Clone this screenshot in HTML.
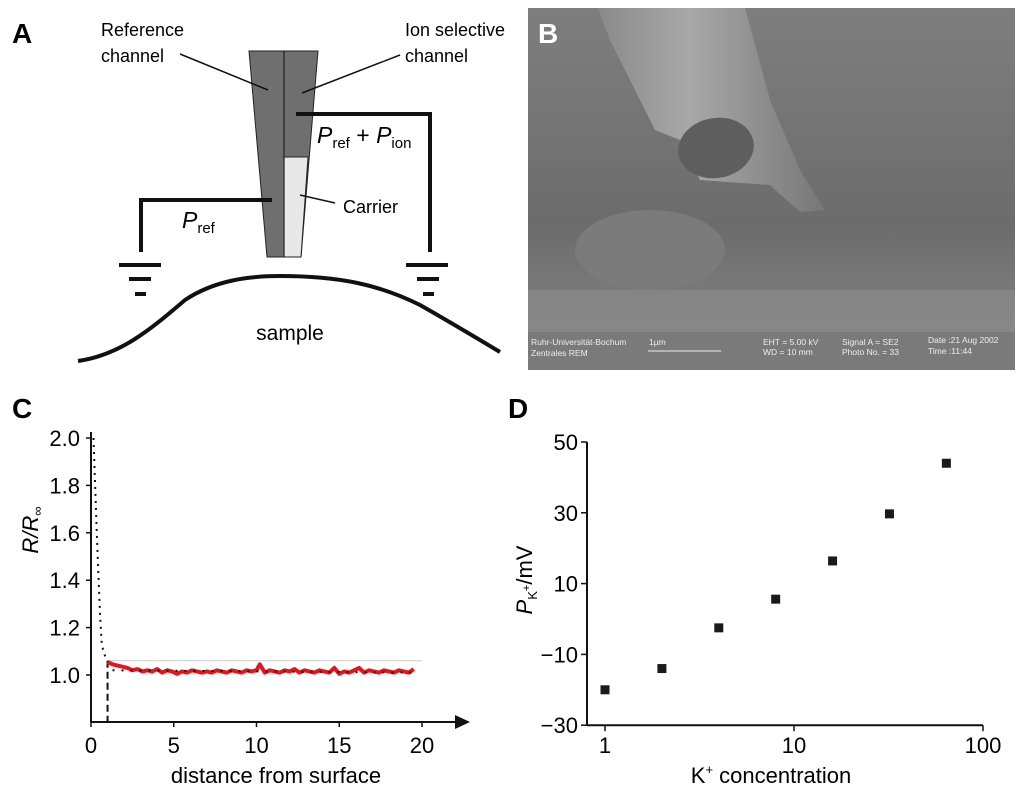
<!DOCTYPE html>
<html><head><meta charset="utf-8">
<style>
html,body{margin:0;padding:0;background:#fff;}
svg{display:block;font-family:"Liberation Sans",sans-serif;}
</style></head>
<body>
<svg width="1024" height="791" viewBox="0 0 1024 791" xmlns="http://www.w3.org/2000/svg">
<!-- Panel A -->
<g>
  <text x="12" y="43" font-size="28" font-weight="bold">A</text>
  <polygon points="249,51 318,51 301,257 267,257" fill="#6f6f6f" stroke="#222" stroke-width="1"/>
  <polygon points="284,157 308,157 301,257 284,257" fill="#e8e8e8" stroke="#222" stroke-width="1"/>
  <line x1="284" y1="51" x2="284" y2="257" stroke="#222" stroke-width="1.2"/>
  <text x="101" y="36" font-size="18">Reference</text>
  <text x="101" y="62" font-size="18">channel</text>
  <line x1="180" y1="54" x2="268" y2="90" stroke="#111" stroke-width="1.5"/>
  <text x="405" y="36" font-size="18">Ion selective</text>
  <text x="405" y="62" font-size="18">channel</text>
  <line x1="400" y1="55" x2="302" y2="93" stroke="#111" stroke-width="1.5"/>
  <polyline points="296,114 430,114 430,252" fill="none" stroke="#111" stroke-width="4"/>
  <polyline points="272,200 141,200 141,252" fill="none" stroke="#111" stroke-width="4"/>
  <g stroke="#111" stroke-width="4">
    <line x1="119" y1="265" x2="161" y2="265"/><line x1="129" y1="279" x2="151" y2="279"/><line x1="135" y1="294" x2="146" y2="294"/>
  </g>
  <g stroke="#111" stroke-width="4">
    <line x1="406" y1="265" x2="448" y2="265"/><line x1="417" y1="279" x2="439" y2="279"/><line x1="423" y1="294" x2="434" y2="294"/>
  </g>
  <text x="317" y="143" font-size="23"><tspan font-style="italic">P</tspan><tspan font-size="15" dy="5">ref</tspan><tspan dy="-5"> + </tspan><tspan font-style="italic">P</tspan><tspan font-size="15" dy="5">ion</tspan></text>
  <text x="182" y="228" font-size="23"><tspan font-style="italic">P</tspan><tspan font-size="15" dy="5">ref</tspan></text>
  <line x1="300" y1="195" x2="335" y2="203" stroke="#111" stroke-width="1.5"/>
  <text x="343" y="213" font-size="18">Carrier</text>
  <path d="M78,361 C120,355 150,330 185,300 C215,280 250,276 280,276 C340,276 380,285 420,305 C450,322 480,340 500,352" fill="none" stroke="#111" stroke-width="4"/>
  <text x="290" y="340" font-size="21" text-anchor="middle">sample</text>
</g>
<!-- Panel B -->
<g>
  <defs>
    <linearGradient id="bg" x1="0" y1="0" x2="0" y2="1"><stop offset="0" stop-color="#7e7e7e"/><stop offset="0.6" stop-color="#6c6c6c"/><stop offset="1" stop-color="#888"/></linearGradient>
    <linearGradient id="tube" x1="0" y1="0" x2="1" y2="0"><stop offset="0" stop-color="#8a8a8a"/><stop offset="0.4" stop-color="#a8a8a8"/><stop offset="1" stop-color="#777"/></linearGradient>
  </defs>
  <rect x="528" y="8" width="487" height="362" fill="url(#bg)"/>
  <path d="M598,8 L745,8 L770,100 L800,170 L825,210 L800,212 L770,185 L700,180 L680,140 L655,130 L610,40 Z" fill="url(#tube)"/>
  <ellipse cx="716" cy="148" rx="38" ry="30" fill="#5e5e5e" transform="rotate(-10 716 148)"/>
  <ellipse cx="650" cy="250" rx="75" ry="40" fill="#7b7b7b"/>
  <rect x="528" y="290" width="487" height="42" fill="#8c8c8c" opacity="0.6"/>
  <rect x="528" y="332" width="487" height="38" fill="#7a7a7a"/>
  <g font-size="8.5" fill="#eee">
    <text x="531" y="345">Ruhr-Universität-Bochum</text><text x="531" y="356">Zentrales REM</text>
    <text x="649" y="345">1µm</text>
    <line x1="648" y1="351" x2="721" y2="351" stroke="#eee" stroke-width="1"/>
    <text x="763" y="345">EHT =  5.00 kV</text><text x="763" y="355">WD =   10 mm</text>
    <text x="842" y="345">Signal A = SE2</text><text x="842" y="355">Photo No. = 33</text>
    <text x="928" y="343">Date :21 Aug 2002</text><text x="928" y="354">Time :11:44</text>
  </g>
  <text x="538" y="43" font-size="28" font-weight="bold" fill="#fff">B</text>
</g>
<text x="12" y="418" font-size="28" font-weight="bold">C</text>
<text x="508" y="418" font-size="28" font-weight="bold">D</text>
<g id="chartC"></g>
<g id="chartD"></g>
</svg>
<script>
// Chart C data
const cXTicks = [0, 5, 10, 15, 20];
const cYTicks = [1.0, 1.2, 1.4, 1.6, 1.8, 2.0];
const cApproachX = [0.15, 0.25, 0.35, 0.45, 0.55, 0.65, 0.75, 0.85, 1.0];
const cApproachY = [2.0, 1.8, 1.6, 1.42, 1.25, 1.13, 1.10, 1.08, 1.06];
const cScanX = [1.0,1.3,1.6,1.9,2.2,2.5,2.8,3.1,3.4,3.7,4.0,4.3,4.6,4.9,5.2,5.5,5.8,6.1,6.4,6.7,7.0,7.3,7.6,7.9,8.2,8.5,8.8,9.1,9.4,9.7,10.0,10.2,10.5,10.8,11.1,11.4,11.7,12.0,12.3,12.6,12.9,13.2,13.5,13.8,14.1,14.4,14.7,15.0,15.3,15.6,15.9,16.2,16.5,16.8,17.1,17.4,17.7,18.0,18.3,18.6,18.9,19.2,19.5];
const cScanY = [1.055,1.045,1.04,1.035,1.03,1.02,1.025,1.015,1.02,1.015,1.025,1.01,1.02,1.015,1.005,1.015,1.01,1.02,1.015,1.01,1.015,1.01,1.02,1.015,1.01,1.02,1.015,1.01,1.02,1.015,1.02,1.045,1.01,1.02,1.015,1.01,1.02,1.015,1.025,1.01,1.02,1.015,1.01,1.02,1.015,1.01,1.03,1.005,1.015,1.01,1.02,1.03,1.01,1.02,1.015,1.01,1.02,1.015,1.01,1.02,1.015,1.01,1.025];
const cFitY = 1.01;
// Chart D data
const dXValues = [1, 2, 4, 8, 16, 32, 64];
const dYValues = [-20, -14, -2.5, 5.6, 16.4, 29.7, 44];
const dXTicks = [1, 10, 100];
const dYTicks = [-30, -10, 10, 30, 50];

const NS = "http://www.w3.org/2000/svg";
function mk(parent, tag, attrs, text) {
  const e = document.createElementNS(NS, tag);
  for (const k in attrs) e.setAttribute(k, attrs[k]);
  if (text !== undefined) e.textContent = text;
  parent.appendChild(e);
  return e;
}
// ---- Chart C ----
(function(){
  const g = document.getElementById('chartC');
  const cx = v => 91 + v * 16.55;
  const cy = v => 675 - (v - 1.0) * 237;
  let e;
  e = mk(g, 'line', {x1:91, y1:432, x2:91, y2:722, stroke:'#111', 'stroke-width':2});
   
  e = mk(g, 'line', {x1:91, y1:722, x2:458, y2:722, stroke:'#111', 'stroke-width':2});
   
  e = mk(g, 'polygon', {points:'455,715 470,722 455,729', fill:'#111'});
   
  cYTicks.forEach(t => {
    mk(g, 'line', {x1:86, y1:cy(t), x2:91, y2:cy(t), stroke:'#111', 'stroke-width':1.5});
    e = mk(g, 'text', {x:80, y:cy(t)+8, 'font-size':22, 'text-anchor':'end'}, t.toFixed(1));
     
  });
  cXTicks.forEach(t => {
    mk(g, 'line', {x1:cx(t), y1:722, x2:cx(t), y2:727, stroke:'#111', 'stroke-width':1.5});
    e = mk(g, 'text', {x:cx(t), y:753, 'font-size':22, 'text-anchor':'middle'}, String(t));
     
  });
  e = mk(g, 'text', {x:276, y:783, 'font-size':22, 'text-anchor':'middle'}, 'distance from surface');
   
  e = mk(g, 'text', {x:0, y:0, 'font-size':22, 'text-anchor':'middle', transform:'translate(38,530) rotate(-90)'});
   
  mk(e, 'tspan', {'font-style':'italic'}, 'R/R');
  mk(e, 'tspan', {'font-size':13, dy:4}, '∞');
  e = mk(g, 'line', {x1:cx(1), y1:cy(1.06), x2:cx(20), y2:cy(1.06), stroke:'#ccc', 'stroke-width':1});
   
  e = mk(g, 'line', {x1:cx(1), y1:cy(1.06), x2:cx(1), y2:722, stroke:'#111', 'stroke-width':2, 'stroke-dasharray':'7,4'});
   
  e = mk(g, 'polyline', {points: cScanX.map((x,i)=>cx(x)+','+cy(cScanY[i])).join(' '), fill:'none', stroke:'#e8141c', 'stroke-width':4, 'stroke-linejoin':'round'});
   
  e = mk(g, 'line', {x1:cx(1.3), y1:cy(cFitY+0.01), x2:cx(19.5), y2:cy(cFitY), stroke:'#111', 'stroke-width':2, 'stroke-dasharray':'2,7'});
   
  e = mk(g, 'polyline', {points: cApproachX.map((x,i)=>cx(x)+','+cy(cApproachY[i])).join(' '), fill:'none', stroke:'#111', 'stroke-width':2, 'stroke-dasharray':'2,5'});
   
})();
// ---- Chart D ----
(function(){
  const g = document.getElementById('chartD');
  const dx = v => 605 + Math.log10(v) * 189;
  const dy = v => 442 + (50 - v) * 3.54;
  let e;
  e = mk(g, 'line', {x1:587, y1:dy(50), x2:587, y2:dy(-30), stroke:'#111', 'stroke-width':2});
   
  e = mk(g, 'line', {x1:587, y1:dy(-30), x2:dx(100), y2:dy(-30), stroke:'#111', 'stroke-width':2});
   
  dYTicks.forEach(t => {
    mk(g, 'line', {x1:581, y1:dy(t), x2:587, y2:dy(t), stroke:'#111', 'stroke-width':1.5});
    e = mk(g, 'text', {x:578, y:dy(t)+8, 'font-size':22, 'text-anchor':'end'}, t < 0 ? '\u2212' + Math.abs(t) : String(t));
     
  });
  dXTicks.forEach(t => {
    mk(g, 'line', {x1:dx(t), y1:dy(-30), x2:dx(t), y2:dy(-30)+6, stroke:'#111', 'stroke-width':1.5});
    e = mk(g, 'text', {x:dx(t), y:753, 'font-size':22, 'text-anchor':'middle'}, String(t));
     
  });
  e = mk(g, 'text', {x:771, y:783, 'font-size':22, 'text-anchor':'middle'});
   
  mk(e, 'tspan', {}, 'K');
  mk(e, 'tspan', {'font-size':13, dy:-9}, '+');
  mk(e, 'tspan', {dy:9}, ' concentration');
  e = mk(g, 'text', {x:0, y:0, 'font-size':22, 'text-anchor':'middle', transform:'translate(532,580) rotate(-90)'});
   
  mk(e, 'tspan', {'font-style':'italic'}, 'P');
  mk(e, 'tspan', {'font-size':13, dy:5}, 'K');
  mk(e, 'tspan', {'font-size':11, dy:-7}, '+');
  mk(e, 'tspan', {dy:2}, '/mV');
  dXValues.forEach((x,i) => {
    e = mk(g, 'rect', {x:dx(x)-4.5, y:dy(dYValues[i])-4.5, width:9, height:9, fill:'#1a1a1a'});
     
  });
})();
</script>
</body></html>
